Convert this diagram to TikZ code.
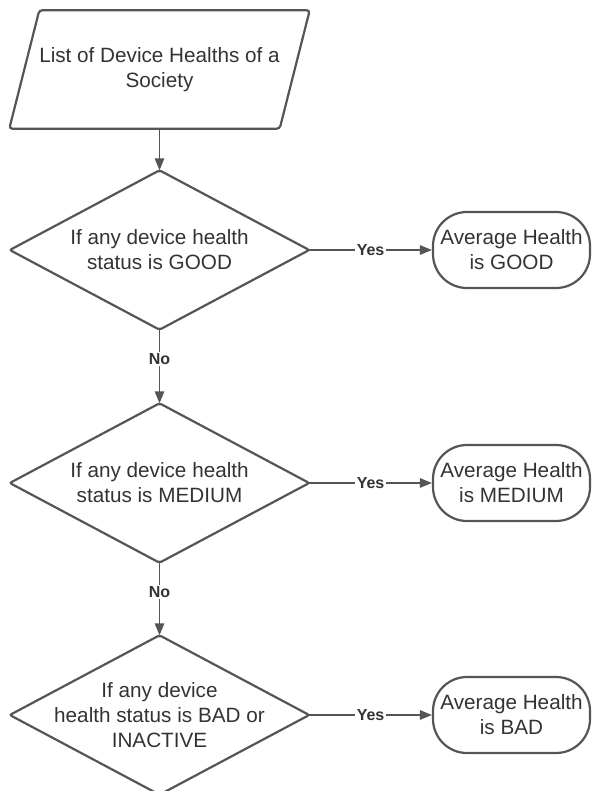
\documentclass[tikz,border=0pt]{standalone}
\usepackage{fontspec}
\setmainfont{Liberation Sans}
\usetikzlibrary{arrows.meta}
\definecolor{linegray}{RGB}{85,85,85}
\definecolor{textgray}{RGB}{51,51,51}
\begin{document}
\begin{tikzpicture}[x=1pt, y=1pt, node distance={233pt}, color=linegray, text=textgray, line width=1.4pt,
		font=\fontsize{20.7pt}{25pt}\selectfont,
		data/.style = {minimum width=269pt, minimum height=117pt, align=center},
		decision/.style = {minimum width=298pt, minimum height=158pt, align=center},
		result/.style = {draw, line width=2.2pt, rounded corners=34pt, minimum width=157pt, minimum height=76pt, align=center},
		flow/.style = {-{Triangle[length=12pt, width=9.5pt]}},
		answer/.style = {font=\fontsize{16pt}{18pt}\selectfont\bfseries, fill=white, inner sep=1.5pt}]
		\useasboundingbox (0,0) rectangle (592,-791);
		\node[data] (list) at (159.5,-69.5) {List of Device Healths of a\\Society};
		\node[decision, node distance=180.5pt] (good) [below of=list] {If any device health\\status is GOOD};
		\node[decision] (medium) [below of=good] {If any device health\\status is MEDIUM};
		\node[decision, node distance=232pt] (bad) [below of=medium] {If any device\\health status is BAD or\\INACTIVE};
		\node[result, node distance=352pt] (avggood) [right of=good] {Average Health\\is GOOD};
		\node[result, node distance=352pt] (avgmedium) [right of=medium] {Average Health\\is MEDIUM};
		\node[result, node distance=352pt] (avgbad) [right of=bad] {Average Health\\is BAD};
		% outlines
		\draw[line width=2.2pt, rounded corners=3pt] ([xshift=15pt]list.north west) -- ([xshift=15pt]list.north east)
		-- ([xshift=-15pt]list.south east) -- ([xshift=-15pt]list.south west) -- cycle;
		\foreach \d in {good, medium, bad}
		\draw[line width=2.2pt, rounded corners=2pt] (\d.north) -- (\d.east) -- (\d.south) -- (\d.west) -- cycle;
		% connectors
		\path[flow]
		(list) edge (good)
		(good) edge node[answer] {Yes} (avggood)
		(good) edge node[answer, pos=0.4] {No} (medium)
		(medium) edge node[answer] {Yes} (avgmedium)
		(medium) edge node[answer, pos=0.4] {No} (bad)
		(bad) edge node[answer] {Yes} (avgbad);
	\end{tikzpicture}
\end{document}
